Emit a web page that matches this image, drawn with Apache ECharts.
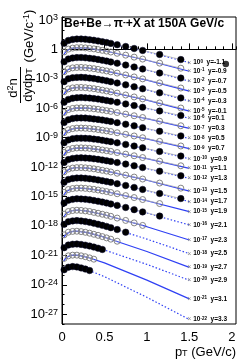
<!DOCTYPE html>
<html><head><meta charset="utf-8">
<script src="https://cdn.jsdelivr.net/npm/echarts@6/dist/echarts.min.js"></script>
<style>html,body{margin:0;padding:0;background:#fff}#c{width:249px;height:361px}</style>
</head><body><div id="c"></div>
<script>
// pT bin centres (GeV/c) of the measured points and pT nodes of the fitted curves
const ptBins = [0.025,0.075,0.125,0.175,0.225,0.275,0.325,0.375,0.425,0.475,0.525,0.575,0.65,0.75,0.85,0.95,1.15,1.4];
const fitPt = [0.02,0.03,0.05,0.1,0.15,0.2,0.3,0.5,1.0,1.5];
const rapidity = ['-1.1','-0.9','-0.7','-0.5','-0.3','-0.1','0.1','0.3','0.5','0.7','0.9','1.1','1.3','1.5','1.7','1.9','2.1','2.3','2.5','2.7','2.9','3.1','3.3'];
const scaleExp = [0,-1,-2,-3,-4,-5,-6,-7,-8,-9,-10,-11,-12,-13,-14,-15,-16,-17,-18,-19,-20,-21,-22];
const yTickExp = [3,0,-3,-6,-9,-12,-15,-18,-21,-24,-27];
const xTicks = [0,0.5,1,1.5,2];
// log10 of d2n/dydpT (before the 10^k scaling) — measured points
const d0 = [0.62,0.91,1.01,1.05,1.06,1.03,0.98,0.93,0.86,0.78,0.70,0.61,0.48,0.29,0.09,-0.11,-0.52,-1.04];
const d1 = [0.74,1.03,1.13,1.17,1.18,1.15,1.10,1.05,0.98,0.90,0.82,0.73,0.60,0.41,0.21,0.01,-0.40,-0.92];
const d2 = [0.73,1.02,1.12,1.16,1.17,1.14,1.09,1.04,0.97,0.89,0.81,0.72,0.59,0.40,0.20,0.00,-0.41,-0.93];
const d3 = [0.72,1.01,1.11,1.15,1.16,1.13,1.08,1.03,0.96,0.88,0.80,0.71,0.58,0.39,0.19,-0.01,-0.42,-0.94];
const d4 = [0.71,1.00,1.10,1.14,1.15,1.12,1.07,1.02,0.95,0.87,0.79,0.70,0.57,0.38,0.18,-0.02,-0.43,-0.95];
const d5 = [0.68,0.97,1.07,1.11,1.12,1.09,1.04,0.99,0.92,0.84,0.76,0.67,0.54,0.35,0.15,-0.05,-0.46,-0.98];
const d6 = [0.61,0.90,1.02,1.07,1.08,1.06,1.03,0.98,0.93,0.86,0.79,0.72,0.60,0.44,0.27,0.09,-0.28,-0.75];
const d7 = [0.57,0.86,0.98,1.03,1.04,1.02,0.99,0.94,0.89,0.82,0.75,0.68,0.56,0.40,0.23,0.05,-0.32,-0.79];
const d8 = [0.54,0.83,0.95,1.00,1.01,0.99,0.96,0.91,0.86,0.79,0.72,0.65,0.53,0.37,0.20,0.02,-0.35,-0.82];
const d9 = [0.51,0.80,0.92,0.97,0.98,0.96,0.93,0.88,0.83,0.76,0.69,0.62,0.50,0.34,0.17,-0.01,-0.38,-0.85];
const d10 = [0.48,0.77,0.89,0.94,0.95,0.93,0.90,0.85,0.80,0.73,0.66,0.59,0.47,0.31,0.14,-0.04,-0.41,-0.88];
const d11 = [0.49,0.78,0.90,0.95,0.96,0.94,0.91,0.86,0.81,0.74,0.67,0.60,0.48,0.32,0.15,-0.03,-0.40,-0.87];
const d12 = [0.47,0.76,0.88,0.93,0.94,0.92,0.89,0.84,0.79,0.72,0.65,0.58,0.46,0.30,0.13,-0.05,-0.42,-0.89];
const d13 = [0.51,0.80,0.90,0.94,0.95,0.92,0.87,0.82,0.75,0.67,0.59,0.50,0.37,0.18,-0.02,-0.22,-0.63,-1.15];
const d14 = [0.45,0.74,0.84,0.88,0.89,0.86,0.81,0.76,0.69,0.61,0.53,0.44,0.31,0.12,-0.08,-0.28,-0.69,-1.21];
const d15 = [0.42,0.71,0.81,0.85,0.86,0.83,0.78,0.73,0.66,0.58,0.50,0.41,0.28,0.09,-0.11,-0.31,-0.72];
const d16 = [0.34,0.62,0.71,0.76,0.75,0.72,0.66,0.59,0.52,0.43,0.34,0.24,0.09,-0.12,-0.34,-0.57,-1.00];
const d17 = [0.20,0.47,0.57,0.60,0.58,0.53,0.47,0.38,0.29,0.19,0.09,-0.02,-0.20,-0.44,-0.69,-0.95];
const d18 = [0.16,0.43,0.51,0.54,0.51,0.45,0.37,0.28,0.17,0.06,-0.05,-0.18,-0.37,-0.64];
const d19 = [0.09,0.36,0.44,0.46,0.42,0.35,0.26,0.15,0.04,-0.09,-0.22,-0.35,-0.56];
const d20 = [-0.22,0.05,0.13,0.15,0.11,0.04,-0.05,-0.16,-0.27,-0.40];
const d21 = [-0.31,-0.05,0.02,0.02,-0.05,-0.14,-0.26,-0.39];
const d22 = [-0.47,-0.21,-0.15,-0.18,-0.28,-0.40,-0.55];
// log10 of the fitted curves at fitPt (before scaling)
const f0 = [0.33,0.50,0.71,0.95,1.04,1.06,1.01,0.74,-0.23,-1.35];
const f1 = [0.45,0.62,0.83,1.07,1.16,1.18,1.13,0.86,-0.11,-1.23];
const f2 = [0.44,0.61,0.82,1.06,1.15,1.17,1.12,0.85,-0.12,-1.24];
const f3 = [0.43,0.60,0.81,1.05,1.14,1.16,1.11,0.84,-0.13,-1.25];
const f4 = [0.42,0.59,0.80,1.04,1.13,1.15,1.10,0.83,-0.14,-1.26];
const f5 = [0.39,0.56,0.77,1.01,1.10,1.12,1.07,0.80,-0.17,-1.29];
const f6 = [0.32,0.49,0.70,0.95,1.04,1.08,1.05,0.83,-0.02,-1.02];
const f7 = [0.28,0.45,0.66,0.91,1.00,1.04,1.01,0.79,-0.06,-1.06];
const f8 = [0.25,0.42,0.63,0.88,0.97,1.01,0.98,0.76,-0.09,-1.09];
const f9 = [0.22,0.39,0.60,0.85,0.94,0.98,0.95,0.73,-0.12,-1.12];
const f10 = [0.19,0.36,0.57,0.82,0.91,0.95,0.92,0.70,-0.15,-1.15];
const f11 = [0.20,0.37,0.58,0.83,0.92,0.96,0.93,0.71,-0.14,-1.14];
const f12 = [0.18,0.35,0.56,0.81,0.90,0.94,0.91,0.69,-0.16,-1.16];
const f13 = [0.22,0.39,0.60,0.84,0.93,0.95,0.90,0.63,-0.34,-1.46];
const f14 = [0.16,0.33,0.54,0.78,0.87,0.89,0.84,0.57,-0.40,-1.52];
const f15 = [0.13,0.30,0.51,0.75,0.84,0.86,0.81,0.54,-0.43,-1.55];
const f16 = [0.05,0.22,0.42,0.66,0.74,0.76,0.69,0.39,-0.69,-1.90];
const f17 = [-0.09,0.08,0.29,0.52,0.59,0.60,0.50,0.14,-1.08,-2.44];
const f18 = [-0.13,0.04,0.25,0.47,0.53,0.53,0.41,0.01,-1.34,-2.83];
const f19 = [-0.19,-0.02,0.19,0.40,0.46,0.44,0.31,-0.15,-1.61,-3.23];
const f20 = [-0.50,-0.33,-0.12,0.09,0.15,0.13,0.00,-0.46,-1.92,-3.54];
const f21 = [-0.58,-0.41,-0.21,-0.01,0.03,-0.01,-0.20,-0.77,-2.53,-4.44];
const f22 = [-0.72,-0.55,-0.36,-0.17,-0.16,-0.22,-0.47,-1.17,-3.28,-5.54];
const strayPoint = [1.93, -1.50];

const dataSets = [d0,d1,d2,d3,d4,d5,d6,d7,d8,d9,d10,d11,d12,d13,d14,d15,d16,d17,d18,d19,d20,d21,d22];
const fitSets = [f0,f1,f2,f3,f4,f5,f6,f7,f8,f9,f10,f11,f12,f13,f14,f15,f16,f17,f18,f19,f20,f21,f22];

const FONT = 'Liberation Sans';
const BLUE = '#2f40f4';
const series = [];
for (let k = 0; k < dataSets.length; k++) {
  const filled = k % 2 === 0;
  const sc = scaleExp[k];
  series.push({
    type: 'line', xAxisIndex: 0, yAxisIndex: 0, silent: true, z: 2,
    symbol: 'none', animation: false,
    data: fitPt.map((p, i) => [p, fitSets[k][i] + sc]),
    lineStyle: { color: BLUE, width: 1.2, type: filled ? [1.5, 2] : 'solid' },
    endLabel: {
      show: true, distance: -2,
      formatter: () => '{x|×}{t| 10}{s|' + sc + '}{t|  y=' + rapidity[k] + '}',
      rich: {
        x: { fontSize: 7, color: '#888', fontFamily: FONT },
        t: { fontSize: 6.5, fontWeight: 'bold', color: '#000', fontFamily: FONT },
        s: { fontSize: 4.5, fontWeight: 'bold', color: '#000', fontFamily: FONT, verticalAlign: 'top' }
      }
    }
  });
  series.push({
    type: 'line', xAxisIndex: 0, yAxisIndex: 0, silent: true, z: 3, animation: false,
    symbol: 'circle', symbolSize: filled ? 6.5 : 6,
    data: dataSets[k].map((v, i) => [ptBins[i], v + sc]),
    lineStyle: { color: '#b4b4b4', width: 0.8 },
    itemStyle: filled ? { color: '#000', borderColor: '#0a0a30', borderWidth: 0.5 }
                      : { color: 'rgba(255,255,255,0)', borderColor: '#777777', borderWidth: 0.9 }
  });
}
series.push({
  type: 'scatter', xAxisIndex: 0, yAxisIndex: 0, silent: true, z: 3, animation: false,
  symbol: 'circle', symbolSize: 6.5, itemStyle: { color: '#000' },
  data: [strayPoint]
});

const gridRect = { left: 62, top: 17, width: 174, height: 307 };
const chart = echarts.init(document.getElementById('c'), null, { renderer: 'canvas' });
chart.setOption({
  animation: false,
  backgroundColor: '#fff',
  grid: [
    Object.assign({ show: true, borderColor: '#000', borderWidth: 1, backgroundColor: 'rgba(0,0,0,0)' }, gridRect),
    Object.assign({ show: false }, gridRect)
  ],
  xAxis: [
    { type: 'value', gridIndex: 0, min: 0, max: 2.05,
      axisLine: { show: true, lineStyle: { color: '#000', width: 1 } },
      splitLine: { show: false },
      axisTick: { inside: true, length: 6, customValues: xTicks, lineStyle: { color: '#000' } },
      axisLabel: { customValues: xTicks, margin: 7, fontSize: 13, color: '#000', fontFamily: FONT,
        formatter: v => String(v) } },
    { type: 'value', gridIndex: 1, min: 0, max: 2.05, interval: 0.1,
      axisLine: { show: false }, splitLine: { show: false }, axisLabel: { show: false },
      axisTick: { inside: true, length: 3, lineStyle: { color: '#000' } } }
  ],
  yAxis: [
    { type: 'value', gridIndex: 0, min: -28, max: 3.3,
      axisLine: { show: true, lineStyle: { color: '#000', width: 1 } },
      splitLine: { show: false },
      axisTick: { inside: true, length: 5, customValues: yTickExp, lineStyle: { color: '#000' } },
      axisLabel: { customValues: yTickExp, margin: 4, color: '#000',
        formatter: v => v === 0 ? '{b|1}' : '{b|10}{s|' + v + '}',
        rich: {
          b: { fontSize: 13, fontFamily: FONT, color: '#000' },
          s: { fontSize: 9, fontFamily: FONT, color: '#000', verticalAlign: 'top' }
        } } },
    { type: 'value', gridIndex: 1, min: -28, max: 3.3, interval: 1,
      axisLine: { show: false }, splitLine: { show: false }, axisLabel: { show: false },
      axisTick: { inside: true, length: 2.5, lineStyle: { color: '#000' } } }
  ],
  graphic: [
    { type: 'text', x: 64, y: 24, z: 10, silent: true,
      style: { text: '{a|Be+Be}{r|→}{a|π}{s|-}{a|+X at 150A GeV/c}',
        align: 'left', verticalAlign: 'middle', textAlign: 'left', textVerticalAlign: 'middle',
        rich: {
          a: { fontSize: 12, fontWeight: 'bold', fontFamily: FONT, color: '#000' },
          r: { fontSize: 12, fontFamily: FONT, color: '#000' },
          s: { fontSize: 8.5, fontWeight: 'bold', fontFamily: FONT, color: '#000', verticalAlign: 'top' }
        } } },
    { type: 'text', x: 13, y: 88, rotation: Math.PI / 2, silent: true,
      style: { text: '{a|d}{s|2}{a|n}', align: 'center', verticalAlign: 'middle', textAlign: 'center', textVerticalAlign: 'middle',
        rich: { a: { fontSize: 13, fontFamily: FONT, color: '#000' }, s: { fontSize: 9, fontFamily: FONT, color: '#000', verticalAlign: 'top' } } } },
    { type: 'line', silent: true, shape: { x1: 20.5, y1: 67, x2: 20.5, y2: 103 }, style: { stroke: '#000', lineWidth: 1 } },
    { type: 'text', x: 28, y: 85, rotation: Math.PI / 2, silent: true,
      style: { text: '{a|dydp}{b|T}', align: 'center', verticalAlign: 'middle', textAlign: 'center', textVerticalAlign: 'middle',
        rich: { a: { fontSize: 13, fontFamily: FONT, color: '#000' }, b: { fontSize: 9, fontFamily: FONT, color: '#000', verticalAlign: 'bottom' } } } },
    { type: 'text', x: 29, y: 36, rotation: Math.PI / 2, silent: true,
      style: { text: '{a|(GeV/c}{s|-1}{a|)}', align: 'center', verticalAlign: 'middle', textAlign: 'center', textVerticalAlign: 'middle',
        rich: { a: { fontSize: 13, fontFamily: FONT, color: '#000' }, s: { fontSize: 9, fontFamily: FONT, color: '#000', verticalAlign: 'top' } } } },
    { type: 'text', x: 236, y: 352, silent: true,
      style: { text: '{a|p}{b|T}{a| (GeV/c)}', align: 'right', verticalAlign: 'middle', textAlign: 'right', textVerticalAlign: 'middle',
        rich: { a: { fontSize: 13, fontFamily: FONT, color: '#000' }, b: { fontSize: 9, fontFamily: FONT, color: '#000', verticalAlign: 'bottom' } } } }
  ],
  series: series
});
</script></body></html>
